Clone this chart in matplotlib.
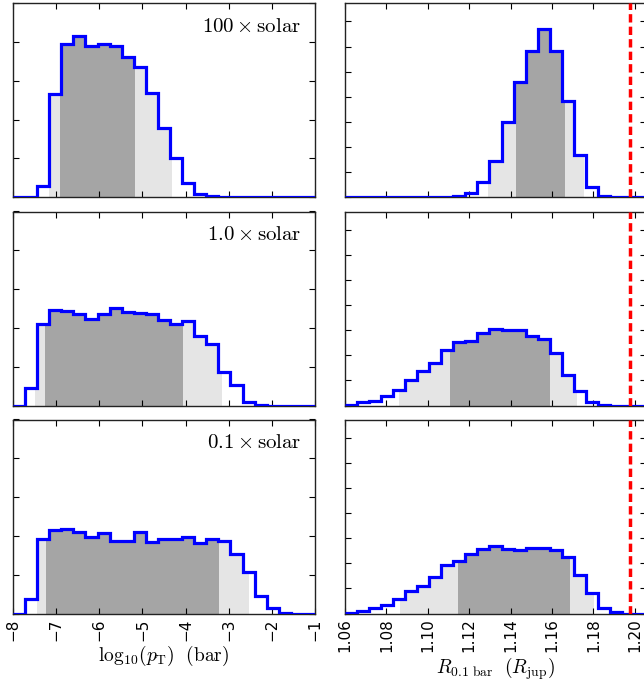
import numpy as np
import matplotlib
matplotlib.use("Agg")
import matplotlib.pyplot as plt
from matplotlib.ticker import MultipleLocator

plt.rcParams['mathtext.fontset'] = 'cm'
plt.rcParams['font.family'] = 'DejaVu Sans'

# binning of the posterior histograms
logp_range = (-8.0, -1.0)
rad_range = (1.06, 1.2054)
n_bins = 25

metallicity_labels = [r'$100\times{\rm solar}$', r'$1.0\times{\rm solar}$', r'$0.1\times{\rm solar}$']

# log10(pT) posterior densities, one per metallicity
logp_100 = [0, 0, 0.030, 0.266, 0.396, 0.415, 0.389, 0.396, 0.391, 0.362, 0.337, 0.270, 0.178,
            0.102, 0.036, 0.008, 0.003, 0, 0, 0, 0, 0, 0, 0, 0]
logp_1 = [0, 0.045, 0.210, 0.247, 0.243, 0.235, 0.223, 0.236, 0.252, 0.242, 0.239, 0.237, 0.220,
          0.210, 0.219, 0.178, 0.158, 0.087, 0.053, 0.009, 0.002, 0, 0, 0, 0]
logp_01 = [0, 0.038, 0.191, 0.216, 0.217, 0.209, 0.198, 0.208, 0.186, 0.188, 0.211, 0.184, 0.192,
           0.191, 0.198, 0.182, 0.191, 0.186, 0.153, 0.106, 0.044, 0.013, 0.002, 0, 0]

# R(0.1 bar) posterior densities
rad_100 = [0, 0, 0, 0, 0, 0, 0, 0, 0, 0.2, 0.8, 3.1, 7.3, 14.9, 22.9, 29.2, 33.4, 29.2, 19.1,
           8.5, 2.1, 0.33, 0.05, 0, 0]
rad_1 = [0.13, 0.66, 0.99, 1.85, 3.17, 5.09, 6.94, 8.45, 11.03, 12.55, 12.75, 14.5, 15.2, 15.1,
         15.0, 13.9, 13.2, 10.4, 6.08, 2.84, 0.66, 0.13, 0, 0, 0]
rad_01 = [0.07, 0.53, 1.06, 1.72, 2.97, 4.49, 5.48, 7.27, 9.58, 10.44, 11.76, 12.75, 13.34, 12.75,
          12.55, 12.95, 12.95, 12.55, 11.23, 7.73, 4.03, 1.06, 0.2, 0, 0]

# credible intervals (95%, 68%)
logp_95 = [(-7.166, -4.32), (-7.49, -3.155), (-7.45, -2.536)]
logp_68 = [(-6.903, -5.172), (-7.258, -4.067), (-7.242, -3.225)]
rad_95 = [(1.1293, 1.1756), (1.0859, 1.1722), (1.0864, 1.1805)]
rad_68 = [(1.1428, 1.1665), (1.1107, 1.1589), (1.1147, 1.1688)]

rad_ref = 1.1977  # measured radius, dashed red line

logp_hists = [logp_100, logp_1, logp_01]
rad_hists = [rad_100, rad_1, rad_01]


def shade(ax, edges, vals, lo, hi, color):
    vals = np.asarray(vals, dtype=float)
    inner = edges[(edges > lo) & (edges < hi)]
    xs = np.concatenate([[lo], inner, [hi]])
    idx = np.clip(np.searchsorted(edges, xs, side='right') - 1, 0, len(vals) - 1)
    ys = vals[idx]
    ax.fill_between(xs, ys, step='post', color=color, lw=0, zorder=1)


def style(ax):
    ax.tick_params(direction='in', top=True, right=True, length=4.5, width=0.8,
                   labelleft=False, labelsize=11)
    for s in ax.spines.values():
        s.set_linewidth(1.0)
        s.set_color('#222222')


fig = plt.figure(figsize=(6.44, 6.86), dpi=100)
W, H = 644.0, 686.0
row_tops = [3.3, 211.5, 419.5]
ax_h = 194.0

logp_edges = np.linspace(logp_range[0], logp_range[1], n_bins + 1)
rad_edges = np.linspace(rad_range[0], rad_range[1], n_bins + 1)

for i in range(3):
    bottom = (H - row_tops[i] - ax_h) / H
    axl = fig.add_axes([13 / W, bottom, 302 / W, ax_h / H])
    axr = fig.add_axes([345 / W, bottom, 301 / W, ax_h / H])

    # left: log10 pT
    shade(axl, logp_edges, logp_hists[i], *logp_95[i], color='#e5e5e5')
    shade(axl, logp_edges, logp_hists[i], *logp_68[i], color='#a5a5a5')
    axl.stairs(logp_hists[i], logp_edges, color='#0000ff', linewidth=2.3, baseline=None, zorder=3)
    axl.set_xlim(*logp_range)
    axl.set_ylim(0, 0.5)
    axl.xaxis.set_major_locator(MultipleLocator(1))
    axl.yaxis.set_major_locator(MultipleLocator(0.1))
    style(axl)
    axl.text(0.955, 0.885, metallicity_labels[i], transform=axl.transAxes,
             ha='right', va='center', fontsize=15)

    # right: R(0.1 bar)
    shade(axr, rad_edges, rad_hists[i], *rad_95[i], color='#e5e5e5')
    shade(axr, rad_edges, rad_hists[i], *rad_68[i], color='#a5a5a5')
    axr.stairs(rad_hists[i], rad_edges, color='#0000ff', linewidth=2.3, baseline=None, zorder=3)
    axr.axvline(rad_ref, color='#ff0000', linewidth=2.5, linestyle=(0, (2.4, 1.2)), zorder=4)
    axr.set_xlim(*rad_range)
    axr.set_ylim(0, 38.6)
    axr.xaxis.set_major_locator(MultipleLocator(0.02))
    axr.yaxis.set_major_locator(MultipleLocator(5))
    style(axr)

    if i < 2:
        axl.tick_params(labelbottom=False)
        axr.tick_params(labelbottom=False)
    else:
        axr.xaxis.set_major_formatter(matplotlib.ticker.FormatStrFormatter('%.2f'))
        for lab in axl.get_xticklabels() + axr.get_xticklabels():
            lab.set_rotation(90)
        axl.set_xlabel(r'${\rm log}_{10}(p_{\rm T})\ \ ({\rm bar})$', fontsize=14, labelpad=2)
        axr.set_xlabel(r'$R_{0.1\ {\rm bar}}\ \ (R_{\rm jup})$', fontsize=14, labelpad=2)

fig.savefig('out.png', dpi=100)
